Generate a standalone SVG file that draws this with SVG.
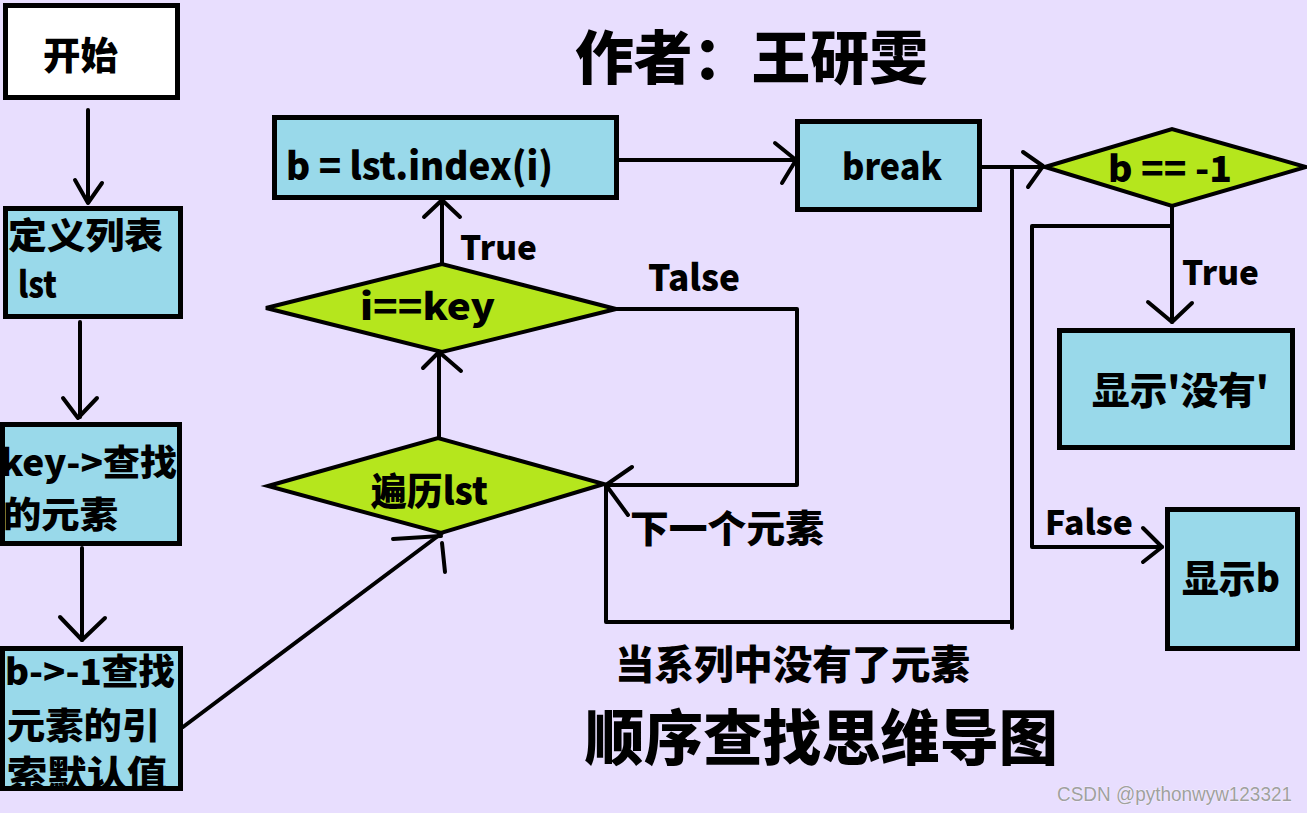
<svg xmlns="http://www.w3.org/2000/svg" width="1307" height="813" viewBox="0 0 1307 813">
<style>
.box{fill:#99D9EA;stroke:#000;stroke-width:5}
.start{fill:#fff;stroke:#000;stroke-width:5}
.dia{fill:#B5E61D;stroke:#000;stroke-width:4;stroke-linejoin:miter}
.ln{fill:none;stroke:#000;stroke-width:4;stroke-linecap:round;stroke-linejoin:round}
.t{font-family:"Noto Sans CJK SC","Noto Sans",sans-serif;font-weight:900;fill:#000}
.wm{font-family:"Liberation Sans",Arial,sans-serif;fill:#a0a0a0;stroke:#fff;stroke-width:0.6;paint-order:stroke}
</style>
<rect x="0" y="0" width="1307" height="813" fill="#E8DEFE"/>

<g id="connectors">
  <path class="ln" d="M88,110 V202"/>
  <polyline class="ln" points="75,180 88,203 102,183"/>
  <path class="ln" d="M80,322 V417"/>
  <polyline class="ln" points="63,398 78,418 97,398"/>
  <path class="ln" d="M82,548 V640"/>
  <polyline class="ln" points="60,617 82,640 105,618"/>
  <path class="ln" d="M183,727 L442,533"/>
  <polyline class="ln" points="393,539 441,536"/>
  <polyline class="ln" points="442,543 445,572"/>
  <path class="ln" d="M439,437 V352"/>
  <polyline class="ln" points="423,368 439,352 461,371"/>
  <path class="ln" d="M442,264 V200"/>
  <polyline class="ln" points="424,217 442,200 460,217"/>
  <path class="ln" d="M619,160 H796"/>
  <polyline class="ln" points="775,143 796,160 782,183"/>
  <path class="ln" d="M982,167 H1043"/>
  <polyline class="ln" points="1023,152 1043,166 1028,187"/>
  <path class="ln" d="M1012,170 V628"/>
  <path class="ln" d="M606,485 V622 H1012"/>
  <path class="ln" d="M616,309 H797 V485 H606"/>
  <polyline class="ln" points="632,467 606,485 628,515"/>
  <path class="ln" d="M1172,206 V322"/>
  <polyline class="ln" points="1148,302 1172,322 1192,303"/>
  <path class="ln" d="M1172,226 H1032 V547 H1162"/>
  <polyline class="ln" points="1143,528 1162,547 1143,562"/>
</g>

<g id="node-start">
  <rect class="start" x="5.5" y="5.5" width="172" height="92"/>
  <text class="t" x="43" y="69" font-size="38" textLength="75" lengthAdjust="spacingAndGlyphs">开始</text>
</g>

<g id="node-define">
  <rect class="box" x="5.5" y="208.5" width="175" height="108"/>
  <text class="t" x="8" y="249" font-size="36" textLength="155" lengthAdjust="spacingAndGlyphs">定义列表</text>
  <text class="t" x="18" y="298" font-size="36" textLength="39" lengthAdjust="spacingAndGlyphs">lst</text>
</g>

<g id="node-key">
  <rect class="box" x="2.5" y="424.5" width="177" height="119"/>
  <text class="t" x="0" y="476" font-size="36" textLength="177" lengthAdjust="spacingAndGlyphs">key-&gt;查找</text>
  <text class="t" x="3" y="528" font-size="36" textLength="115" lengthAdjust="spacingAndGlyphs">的元素</text>
</g>

<g id="node-default">
  <rect class="box" x="2.5" y="648.5" width="178" height="140"/>
  <text class="t" x="5" y="685" font-size="36" textLength="170" lengthAdjust="spacingAndGlyphs">b-&gt;-1查找</text>
  <text class="t" x="7" y="739" font-size="36" textLength="153" lengthAdjust="spacingAndGlyphs">元素的引</text>
  <text class="t" x="7" y="787" font-size="36" textLength="160" lengthAdjust="spacingAndGlyphs">索默认值</text>
</g>

<g id="node-traverse">
  <polygon class="dia" points="268,486 438,438 604,484 441,533"/>
  <text class="t" x="371" y="505" font-size="38" textLength="117" lengthAdjust="spacingAndGlyphs">遍历lst</text>
</g>

<g id="node-compare">
  <polygon class="dia" points="266,308 442,264 616,309 442,352"/>
  <text class="t" x="360" y="320" font-size="36" textLength="135" lengthAdjust="spacingAndGlyphs">i==key</text>
</g>

<g id="node-index">
  <rect class="box" x="274.5" y="117.5" width="342" height="80"/>
  <text class="t" x="286" y="180" font-size="38" textLength="267" lengthAdjust="spacingAndGlyphs">b = lst.index(i)</text>
</g>

<g id="node-break">
  <rect class="box" x="797.5" y="121.5" width="182" height="88"/>
  <text class="t" x="842" y="180" font-size="36" textLength="100" lengthAdjust="spacingAndGlyphs">break</text>
</g>

<g id="node-check">
  <polygon class="dia" points="1045,167 1172,129 1306,167 1172,206"/>
  <text class="t" x="1108" y="182" font-size="36" textLength="124" lengthAdjust="spacingAndGlyphs">b == -1</text>
</g>

<g id="node-none">
  <rect class="box" x="1059.5" y="330.5" width="233" height="117"/>
  <text class="t" x="1092" y="404" font-size="38" textLength="177" lengthAdjust="spacingAndGlyphs">显示'没有'</text>
</g>

<g id="node-showb">
  <rect class="box" x="1167.5" y="509.5" width="130" height="139"/>
  <text class="t" x="1182" y="592" font-size="38" textLength="98" lengthAdjust="spacingAndGlyphs">显示b</text>
</g>

<g id="labels">
  <text class="t" x="460" y="260" font-size="34" textLength="77" lengthAdjust="spacingAndGlyphs">True</text>
  <text class="t" x="648" y="291" font-size="36" textLength="92" lengthAdjust="spacingAndGlyphs">Talse</text>
  <text class="t" x="630" y="542" font-size="38" textLength="194" lengthAdjust="spacingAndGlyphs">下一个元素</text>
  <text class="t" x="1182" y="285" font-size="34" textLength="77" lengthAdjust="spacingAndGlyphs">True</text>
  <text class="t" x="1045" y="535" font-size="34" textLength="88" lengthAdjust="spacingAndGlyphs">False</text>
  <text class="t" x="615" y="679" font-size="40" textLength="355" lengthAdjust="spacingAndGlyphs">当系列中没有了元素</text>
</g>

<g id="titles">
  <text class="t" x="575" y="79" font-size="58" textLength="353" lengthAdjust="spacingAndGlyphs">作者：王研雯</text>
  <text class="t" x="585" y="760" font-size="60" textLength="473" lengthAdjust="spacingAndGlyphs">顺序查找思维导图</text>
  <text class="wm" x="1057" y="801" font-size="20" textLength="235" lengthAdjust="spacingAndGlyphs">CSDN @pythonwyw123321</text>
</g>
</svg>
